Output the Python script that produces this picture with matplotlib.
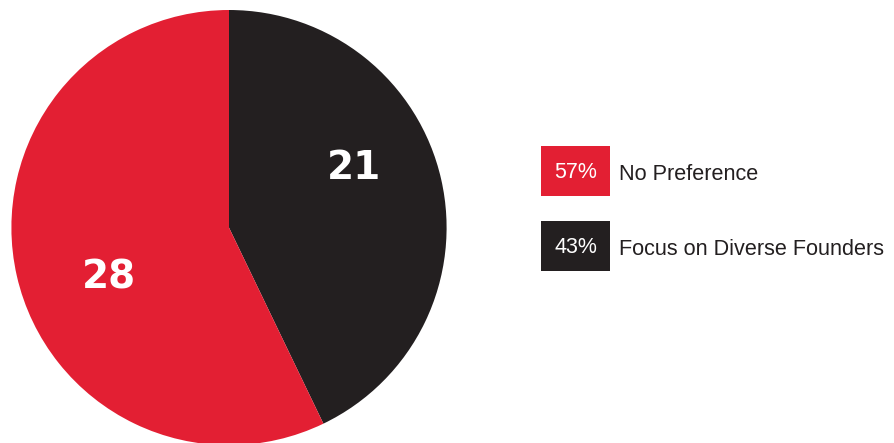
import matplotlib
matplotlib.use("Agg")
import matplotlib.pyplot as plt
from matplotlib.patches import Rectangle

# survey counts
categories = ["Focus on Diverse Founders", "No Preference"]
counts = [21, 28]
colors = ["#231F20", "#E31F33"]

# legend rows, top to bottom
legend_labels = ["No Preference", "Focus on Diverse Founders"]
legend_counts = [28, 21]
legend_colors = ["#E31F33", "#231F20"]

W, H = 894, 443
fig = plt.figure(figsize=(W / 100, H / 100), dpi=100)

# pie axes: centre (229, 227.6) px, radius 217.6 px
cx, cy, r = 229, 227.6, 217.6
ax = fig.add_axes([(cx - r) / W, (H - cy - r) / H, 2 * r / W, 2 * r / H])
ax.pie(counts, colors=colors, startangle=90, counterclock=False, radius=1,
       wedgeprops=dict(linewidth=0))
ax.set_xlim(-1, 1)
ax.set_ylim(-1, 1)
ax.set_aspect("equal")
ax.axis("off")

label_pos = {"Focus on Diverse Founders": (0.574, 0.274), "No Preference": (-0.551, -0.229)}
for cat, n in zip(categories, counts):
    x, y = label_pos[cat]
    ax.text(x, y, str(n), color="white", fontsize=28, fontweight="heavy",
            family="DejaVu Sans", ha="center", va="center")

# legend drawn in pixel coordinates
lax = fig.add_axes([0, 0, 1, 1])
lax.set_xlim(0, W)
lax.set_ylim(H, 0)
lax.axis("off")

total = sum(counts)
box_x, box_w, box_h = 541, 69, 50
row_y = [146, 221]
for y0, lab, n, col in zip(row_y, legend_labels, legend_counts, legend_colors):
    lax.add_patch(Rectangle((box_x, y0), box_w, box_h, color=col, linewidth=0))
    pct = round(100 * n / total)
    lax.text(box_x + box_w / 2, y0 + box_h / 2 + 1.5, f"{pct}%", color="white",
             fontsize=15.5, family="Liberation Sans", ha="center", va="center")
    lax.text(619, y0 + box_h / 2 + 3, lab, color="#231F20",
             fontsize=15.6, family="Liberation Sans", ha="left", va="center")

fig.savefig("out.png", dpi=100, facecolor="white")
